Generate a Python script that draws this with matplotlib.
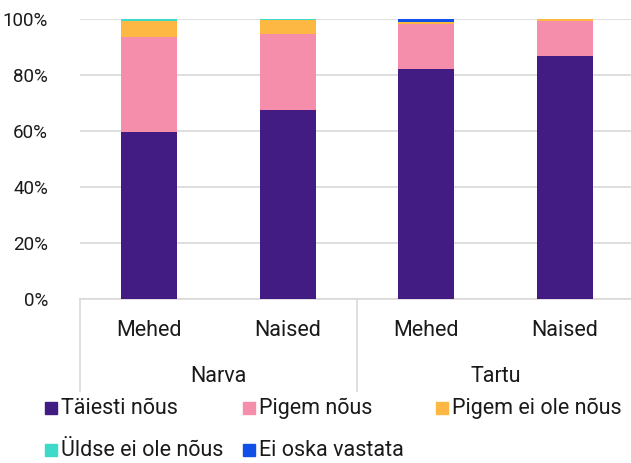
import matplotlib
matplotlib.use("Agg")
import matplotlib.pyplot as plt
from matplotlib.patches import Rectangle
import numpy as np

plt.rcParams['font.family'] = ['Roboto', 'DejaVu Sans']

cities = ["Narva", "Tartu"]
genders = ["Mehed", "Naised"]
series_names = ["Täiesti nõus", "Pigem nõus", "Pigem ei ole nõus",
                "Üldse ei ole nõus", "Ei oska vastata"]
taiesti = [59.5, 67.5, 82.0, 86.8]
pigem = [34.0, 27.3, 16.3, 12.5]
pigem_ei = [5.8, 5.0, 0.7, 0.7]
uldse = [0.7, 0.2, 0.0, 0.0]
ei_oska = [0.0, 0.0, 1.0, 0.0]
colors = ["#431C83", "#F48EAA", "#FDB843", "#3DD9C9", "#1150E8"]
yticks = [0, 20, 40, 60, 80, 100]

W, H = 631, 463
fig = plt.figure(figsize=(W / 100, H / 100), dpi=100)
x0, x1 = 80, 634
y0, y1 = 299, 19
ax = fig.add_axes([x0 / W, 1 - y0 / H, (x1 - x0) / W, (y0 - y1) / H])
ax.set_clip_on(False)

values = [taiesti, pigem, pigem_ei, uldse, ei_oska]
n = len(taiesti)
x = np.arange(n)
bottom = np.zeros(n)
for vals, c, name in zip(values, colors, series_names):
    ax.bar(x, vals, width=0.405, bottom=bottom, color=c, label=name, zorder=3)
    bottom += np.array(vals)

ax.set_xlim(-0.5, n - 0.5)
ax.set_ylim(0, 100)
ax.set_yticks(yticks)
ax.set_yticklabels([f"{v}%" for v in yticks], fontsize=13.5, color="#1a1a1a")
ax.tick_params(axis='y', length=0, pad=23)
ax.set_xticks([])
ax.grid(axis='y', color="#D9D9D9", linewidth=1.2, zorder=0)
for s in ["top", "right", "left"]:
    ax.spines[s].set_visible(False)
ax.spines["bottom"].set_color("#D9D9D9")
ax.spines["bottom"].set_linewidth(1.2)

fs = 15.5
trans = ax.get_xaxis_transform()
ppy = 1.0 / (y0 - y1)
for i in range(n):
    ax.text(x[i], -(331 - y0) * ppy, genders[i % 2], transform=trans,
            ha='center', va='center', fontsize=fs, color="#1a1a1a")
for j, city in enumerate(cities):
    ax.text(2 * j + 0.5, -(377 - y0) * ppy, city, transform=trans,
            ha='center', va='center', fontsize=fs, color="#1a1a1a")
for xb in [-0.5, 1.5, 3.5]:
    ax.plot([xb, xb], [0, -(391 - y0) * ppy], transform=trans,
            color="#D9D9D9", linewidth=1.2, clip_on=False)

leg_pos = [(45, 408), (243, 408), (436, 408), (45, 450), (243, 450)]
sq = 12
for (lx, ly), c, name in zip(leg_pos, colors, series_names):
    fig.patches.append(Rectangle((lx / W, 1 - (ly + sq / 2) / H), sq / W, sq / H,
                                 transform=fig.transFigure, color=c))
    fig.text((lx + sq + 4) / W, 1 - ly / H, name, ha='left', va='center',
             fontsize=fs, color="#1a1a1a")

fig.savefig("out.png", dpi=100)
